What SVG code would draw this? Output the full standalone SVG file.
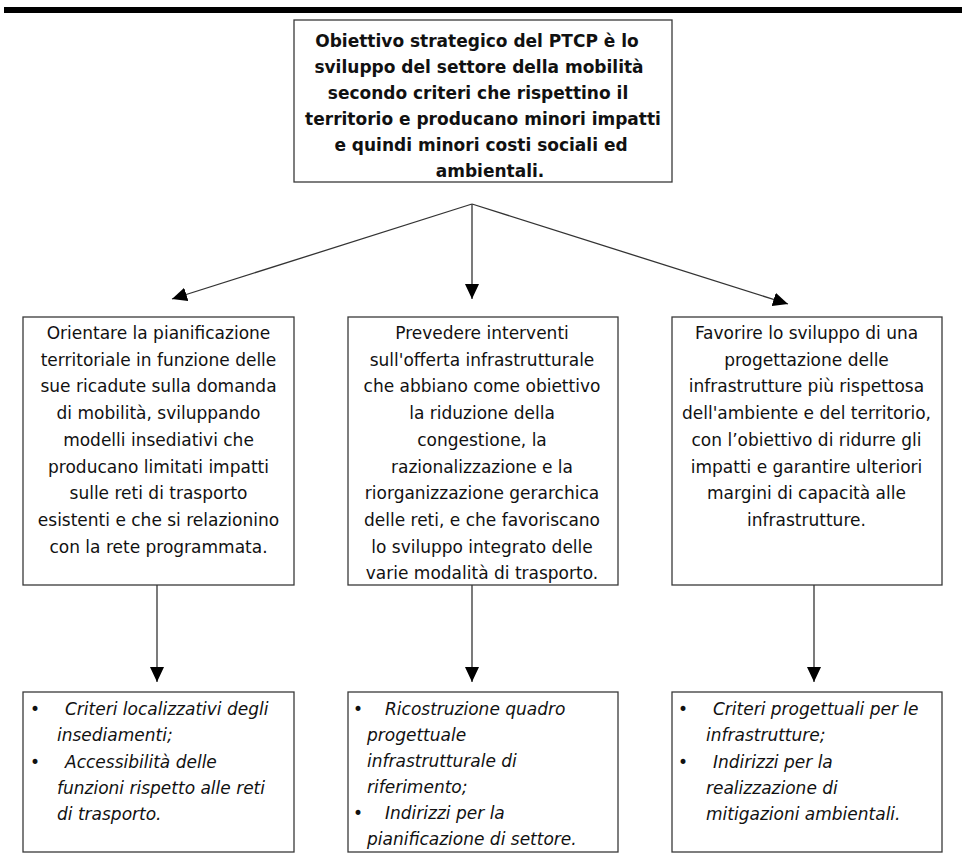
<svg xmlns="http://www.w3.org/2000/svg" width="962" height="858" viewBox="0 0 962 858">
<style>
.box{fill:#fff;stroke:#3a3a3a;stroke-width:1.3}
.t{font-family:"DejaVu Sans",Verdana,sans-serif;font-size:17px;fill:#111}
.b{font-weight:bold}
.c{text-anchor:middle}
.i{font-style:italic}
.ln{stroke:#333;stroke-width:1.3;fill:none}
</style>
<defs>
<marker id="ah" viewBox="0 0 15 14" refX="15" refY="7" markerUnits="userSpaceOnUse" markerWidth="15" markerHeight="14" orient="auto">
<path d="M0,0 L15,7 L0,14 z" fill="#000"/>
</marker>
</defs>
<rect x="4" y="7" width="958" height="6" fill="#000"/>
<g id="connectors">
<line class="ln" x1="472" y1="204" x2="172" y2="299" marker-end="url(#ah)"/>
<line class="ln" x1="472" y1="204" x2="472" y2="299" marker-end="url(#ah)"/>
<line class="ln" x1="472" y1="204" x2="788" y2="304" marker-end="url(#ah)"/>
<line class="ln" x1="157" y1="585" x2="157" y2="682" marker-end="url(#ah)"/>
<line class="ln" x1="472" y1="585" x2="472" y2="682" marker-end="url(#ah)"/>
<line class="ln" x1="814" y1="585" x2="814" y2="682" marker-end="url(#ah)"/>
</g>
<g id="top">
<rect class="box" x="294" y="20" width="378" height="162"/>
<text class="t b c" x="477" y="46.5">Obiettivo strategico del PTCP è lo</text>
<text class="t b c" x="479" y="72.5">sviluppo del settore della mobilità</text>
<text class="t b c" x="478" y="98.5">secondo criteri che rispettino il</text>
<text class="t b c" x="483" y="124.5">territorio e producano minori impatti</text>
<text class="t b c" x="481" y="150.5">e quindi minori costi sociali ed</text>
<text class="t b c" x="490" y="176.5">ambientali.</text>
</g>
<g id="obj1">
<rect class="box" x="23" y="317" width="271" height="268"/>
<text class="t c" x="158.5" y="339">Orientare la pianificazione</text>
<text class="t c" x="158.5" y="365.7">territoriale in funzione delle</text>
<text class="t c" x="158.5" y="392.4">sue ricadute sulla domanda</text>
<text class="t c" x="158.5" y="419.1">di mobilità, sviluppando</text>
<text class="t c" x="158.5" y="445.8">modelli insediativi che</text>
<text class="t c" x="158.5" y="472.5">producano limitati impatti</text>
<text class="t c" x="158.5" y="499.2">sulle reti di trasporto</text>
<text class="t c" x="158.5" y="525.9">esistenti e che si relazionino</text>
<text class="t c" x="158.5" y="552.6">con la rete programmata.</text>
</g>
<g id="obj2">
<rect class="box" x="348" y="317" width="270" height="268"/>
<text class="t c" x="482" y="339">Prevedere interventi</text>
<text class="t c" x="482" y="365.7">sull'offerta infrastrutturale</text>
<text class="t c" x="482" y="392.4">che abbiano come obiettivo</text>
<text class="t c" x="482" y="419.1">la riduzione della</text>
<text class="t c" x="482" y="445.8">congestione, la</text>
<text class="t c" x="482" y="472.5">razionalizzazione e la</text>
<text class="t c" x="482" y="499.2">riorganizzazione gerarchica</text>
<text class="t c" x="482" y="525.9">delle reti, e che favoriscano</text>
<text class="t c" x="482" y="552.6">lo sviluppo integrato delle</text>
<text class="t c" x="482" y="579.3">varie modalità di trasporto.</text>
</g>
<g id="obj3">
<rect class="box" x="672" y="317" width="270" height="268"/>
<text class="t c" x="806.5" y="339">Favorire lo sviluppo di una</text>
<text class="t c" x="806.5" y="365.7">progettazione delle</text>
<text class="t c" x="806.5" y="392.4">infrastrutture più rispettosa</text>
<text class="t c" x="806.5" y="419.1">dell'ambiente e del territorio,</text>
<text class="t c" x="806.5" y="445.8">con l’obiettivo di ridurre gli</text>
<text class="t c" x="806.5" y="472.5">impatti e garantire ulteriori</text>
<text class="t c" x="806.5" y="499.2">margini di capacità alle</text>
<text class="t c" x="806.5" y="525.9">infrastrutture.</text>
</g>
<g id="act1">
<rect class="box" x="23" y="692" width="271" height="160"/>
<text class="t" x="30" y="715">•</text>
<text class="t i" x="65" y="715">Criteri localizzativi degli</text>
<text class="t i" x="57" y="741.3">insediamenti;</text>
<text class="t" x="30" y="767.6">•</text>
<text class="t i" x="65" y="767.6">Accessibilità delle</text>
<text class="t i" x="57" y="793.9">funzioni rispetto alle reti</text>
<text class="t i" x="57" y="820.2">di trasporto.</text>
</g>
<g id="act2">
<rect class="box" x="348" y="692" width="270" height="160"/>
<text class="t" x="353" y="715">•</text>
<text class="t i" x="385" y="715">Ricostruzione quadro</text>
<text class="t i" x="367" y="741">progettuale</text>
<text class="t i" x="367" y="767">infrastrutturale di</text>
<text class="t i" x="367" y="793">riferimento;</text>
<text class="t" x="353" y="819">•</text>
<text class="t i" x="385" y="819">Indirizzi per la</text>
<text class="t i" x="367" y="845">pianificazione di settore.</text>
</g>
<g id="act3">
<rect class="box" x="672" y="692" width="270" height="160"/>
<text class="t" x="678" y="715">•</text>
<text class="t i" x="713" y="715">Criteri progettuali per le</text>
<text class="t i" x="706" y="741.3">infrastrutture;</text>
<text class="t" x="678" y="767.6">•</text>
<text class="t i" x="713" y="767.6">Indirizzi per la</text>
<text class="t i" x="706" y="793.9">realizzazione di</text>
<text class="t i" x="706" y="820.2">mitigazioni ambientali.</text>
</g>
</svg>
